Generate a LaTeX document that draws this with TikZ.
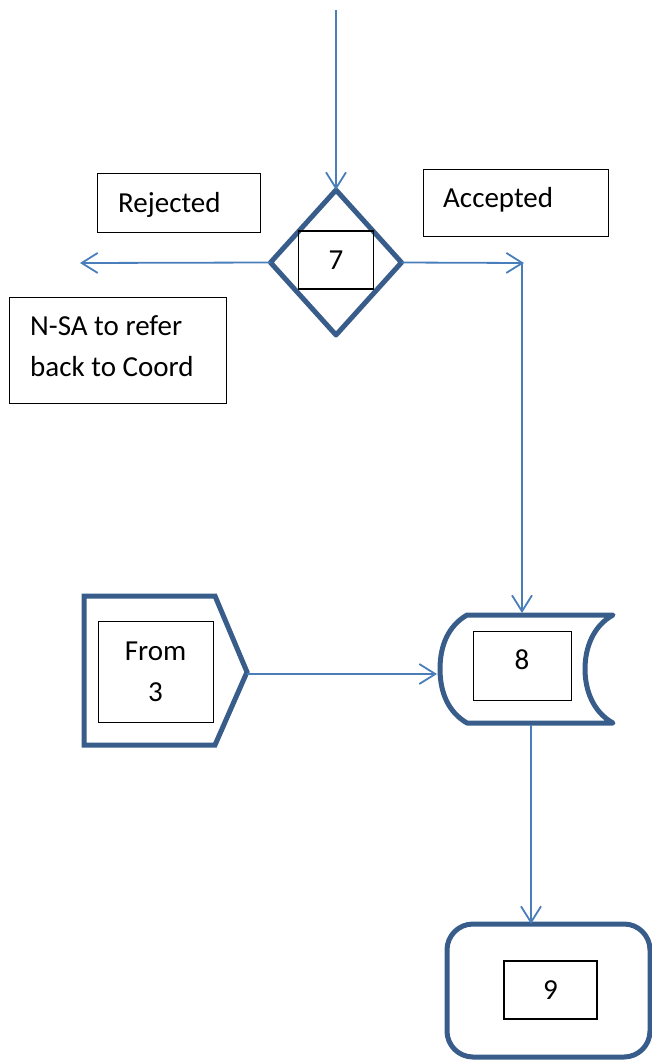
\documentclass[tikz,border=0pt]{standalone}
\usepackage{fontspec}
\setmainfont{Carlito}
\usetikzlibrary{arrows.meta,shapes.geometric}
\definecolor{shapeblue}{RGB}{56,93,138}
\definecolor{lineblue}{RGB}{74,126,187}
\tikzset{
  shapeline/.style={draw=shapeblue,line width=5pt,line join=round,line cap=round},
  conn/.style={draw=lineblue,line width=1.8pt,-{Straight Barb[length=16pt,width=20pt,line width=1.8pt]}},
  plain/.style={draw=lineblue,line width=1.8pt},
  labelbox/.style={draw=black,line width=1.4pt,inner sep=0pt,anchor=north west},
  txt/.style={inner sep=0pt,font=\fontsize{29}{41}\selectfont},
}
\begin{document}
\begin{tikzpicture}[x=1pt,y=-1pt]
\useasboundingbox (0,0) rectangle (651,1062);
% top entry
\coordinate (start) at (336,10);
% decision diamond
\node[shapeline,diamond,minimum width=131pt,minimum height=145pt,inner sep=0pt,outer sep=0pt] (dec) at (336,262.5) {};
\node[labelbox,anchor=center,minimum width=75pt,minimum height=58pt,txt] (b7) at (336,260) {7};
\draw[conn] (start) -- (dec.north);
% rejected / accepted labels
\node[labelbox,minimum width=163pt,minimum height=59pt] (rej) at (97,173) {};
\node[txt,anchor=base west] (rejt) at (118,212) {Rejected};
\node[labelbox,minimum width=185pt,minimum height=67pt] (acc) at (423,169) {};
\node[txt,anchor=base west] (acct) at (443,207) {Accepted};
\node[labelbox,minimum width=217pt,minimum height=106pt] (nsa) at (9,297) {};
\node[txt,anchor=base west] (nsa1) at (30,335) {N-SA to refer};
\node[txt,anchor=base west] (nsa2) at (30,376) {back to Coord};
% rejected arrow
\coordinate (rejend) at (80,263);
\draw[conn] (dec.west) -- (rejend);
% accepted arrow
\coordinate (accend) at (524,263);
\coordinate (corner) at (522,262);
\draw[conn] (dec.east) -- (accend);
% stored data shape (8)
\draw[shapeline] (467,615) -- (613,615)
  .. controls (593,626) and (585,648) .. (585,669)
  .. controls (585,690) and (593,712) .. (613,723)
  -- (467,723)
  .. controls (448,712) and (440,692) .. (440,669)
  .. controls (440,646) and (448,626) .. (467,615) -- cycle;
\coordinate (sdtop) at (522,613);
\coordinate (sdleft) at (437,674);
\coordinate (sdbot) at (531,725);
\node[labelbox,minimum width=98pt,minimum height=69pt] (b8) at (473,631) {};
\node[txt,anchor=base] (b8t) at (522,669) {8};
\draw[conn] (corner) -- (sdtop);
% off-page connector (from 3)
\draw[shapeline,line join=miter] (84,596) -- (215,596) -- (247,672) -- (215,745) -- (84,745) -- cycle;
\coordinate (pent) at (247,674);
\node[labelbox,minimum width=115pt,minimum height=101pt] (b3) at (98,621) {};
\node[txt,anchor=base] (b3a) at (155.5,660) {From};
\node[txt,anchor=base] (b3b) at (155.5,701) {3};
\draw[conn] (pent) -- (sdleft);
% terminal (9)
\node[shapeline,rounded corners=26pt,minimum width=203pt,minimum height=133pt,anchor=north west,inner sep=0pt,outer sep=0pt] (term) at (447,924) {};
\node[labelbox,anchor=center,minimum width=93pt,minimum height=58pt,txt] (b9) at (550.5,990) {9};
\draw[conn] (sdbot) -- (term.north -| sdbot);
\end{tikzpicture}
\end{document}
